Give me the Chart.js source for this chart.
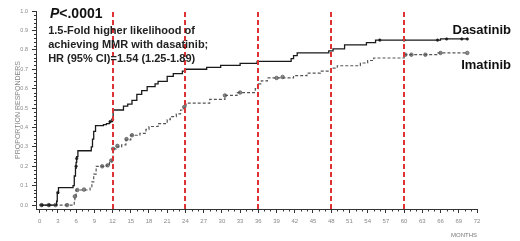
<!DOCTYPE html>
<html>
<head>
<meta charset="utf-8">
<script src="https://cdn.jsdelivr.net/npm/chart.js@4.4.1/dist/chart.umd.min.js"></script>
<style>
  body { margin: 0; background: #fff; }
  canvas { display: block; }
</style>
</head>
<body>
<canvas id="mmrChart" width="520" height="241"></canvas>
<script>
// step points: month of event -> cumulative proportion after it
const dasaMonths = [0, 2.8, 2.9, 3.1, 5.5, 5.7, 5.9, 6.0, 6.1, 6.3, 8.5, 8.7, 8.9, 9.2, 10.5, 11.0, 11.5, 12.0, 12.1,
  13.8, 14.5, 15.2, 16.0, 16.8, 17.7, 19.0, 19.5, 21.0, 22.0, 23.5, 24.0, 27.5, 29.8, 33.0, 35.8,
  41.4, 41.8, 42.4, 47.6, 48.3, 50.2, 53.8, 55.3, 66.0, 70.4];
const dasaValues = [0, 0.02, 0.06, 0.09, 0.10, 0.15, 0.19, 0.22, 0.25, 0.28, 0.30, 0.34, 0.38, 0.41, 0.415, 0.42, 0.43, 0.44, 0.49,
  0.51, 0.52, 0.54, 0.57, 0.59, 0.61, 0.625, 0.637, 0.663, 0.677, 0.69, 0.70, 0.71, 0.72, 0.73, 0.74,
  0.755, 0.77, 0.784, 0.795, 0.805, 0.825, 0.837, 0.85, 0.856, 0.856];

const imaMonths = [0, 5.7, 5.8, 6.0, 8.3, 8.6, 8.9, 9.3, 11.0, 11.5, 11.9, 12.1, 12.6, 13.5, 14.2, 15.0, 16.5, 17.5, 18.0,
  19.5, 21.0, 21.5, 22.5, 23.2, 23.8, 24.1, 28.0, 30.5, 32.5, 35.5, 36.0, 36.5, 37.5, 41.8, 44.0, 46.2, 47.9,
  49.0, 52.8, 54.0, 55.0, 60.0, 65.4, 70.4];
const imaValues = [0, 0.02, 0.045, 0.078, 0.088, 0.12, 0.16, 0.20, 0.205, 0.22, 0.24, 0.29, 0.30, 0.31, 0.336, 0.36, 0.37, 0.39, 0.405,
  0.42, 0.44, 0.456, 0.47, 0.49, 0.505, 0.525, 0.545, 0.565, 0.58, 0.60, 0.625, 0.64, 0.655, 0.667, 0.68, 0.69, 0.706,
  0.718, 0.732, 0.745, 0.758, 0.775, 0.784, 0.784];

// censor marks
const dasaMarkMonths = [0.4, 1.6, 3.0, 6.0, 6.1, 11.6, 12.0, 56.0, 60.0, 65.5, 67.0, 69.5, 70.4];
const dasaMarkValues = [0, 0, 0.065, 0.20, 0.24, 0.43, 0.44, 0.85, 0.85, 0.85, 0.856, 0.856, 0.856];
const imaMarkMonths = [0.3, 1.5, 2.6, 4.5, 5.8, 6.2, 7.3, 10.3, 11.2, 11.8, 12.1, 12.8, 14.3, 15.2, 23.8,
  30.5, 33.0, 39.0, 40.0, 60.2, 61.2, 63.5, 66.0, 70.4];
const imaMarkValues = [0, 0, 0, 0, 0.045, 0.078, 0.08, 0.20, 0.205, 0.23, 0.29, 0.305, 0.34, 0.36, 0.505,
  0.565, 0.58, 0.655, 0.66, 0.775, 0.775, 0.775, 0.784, 0.784];

const refMonths = [12, 24, 36, 48, 60];
const monthTicks = [0, 3, 6, 9, 12, 15, 18, 21, 24, 27, 30, 33, 36, 39, 42, 45, 48, 51, 54, 57, 60, 63, 66, 69, 72];
const proportionTicks = [0, 0.1, 0.2, 0.3, 0.4, 0.5, 0.6, 0.7, 0.8, 0.9, 1.0];

const toPoints = (xs, ys) => xs.map((x, i) => ({ x: x, y: ys[i] }));

const refLines = {
  id: 'refLines',
  afterDatasetsDraw: chart => {
    const { ctx, scales: { x, y } } = chart;
    ctx.save();
    ctx.strokeStyle = '#dc3434';
    ctx.lineWidth = 2;
    ctx.setLineDash([5, 3]);
    refMonths.forEach(m => {
      const px = Math.round(x.getPixelForValue(m));
      ctx.beginPath();
      ctx.moveTo(px, y.getPixelForValue(1.0) + 1);
      ctx.lineTo(px, y.getPixelForValue(y.min));
      ctx.stroke();
    });
    ctx.restore();
  }
};

const minorTicks = {
  id: 'minorTicks',
  afterDraw: chart => {
    const { ctx, scales: { x, y } } = chart;
    ctx.save();
    ctx.strokeStyle = '#333';
    ctx.lineWidth = 1;
    ctx.beginPath();
    for (let m = 1; m < 72; m++) {
      if (m % 3 === 0) continue;
      const px = Math.round(x.getPixelForValue(m)) + 0.5;
      ctx.moveTo(px, x.top);
      ctx.lineTo(px, x.top + 2.5);
    }
    for (let k = 1; k < 50; k++) {
      if (k % 5 === 0) continue;
      const py = Math.round(y.getPixelForValue(k * 0.02)) + 0.5;
      ctx.moveTo(y.right - 2, py);
      ctx.lineTo(y.right, py);
    }
    ctx.stroke();
    ctx.restore();
  }
};

const notes = {
  id: 'notes',
  afterDraw: chart => {
    const { ctx, chartArea, scales: { x, y } } = chart;
    const at = (mx, vy) => [x.getPixelForValue(mx), y.getPixelForValue(vy)];
    ctx.save();
    ctx.textBaseline = 'alphabetic';
    ctx.fillStyle = '#111';
    let [px, py] = at(1.7, 0.965);
    ctx.font = 'italic bold 14px "Liberation Sans", Arial, sans-serif';
    ctx.fillText('P', px, py);
    const pw = ctx.measureText('P').width;
    ctx.font = 'bold 14px "Liberation Sans", Arial, sans-serif';
    ctx.fillText('<.0001', px + pw, py);

    ctx.fillStyle = '#222';
    ctx.font = 'bold 11px "Liberation Sans", Arial, sans-serif';
    const lines = ['1.5-Fold higher likelihood of', 'achieving MMR with dasatinib;', 'HR (95% CI)=1.54 (1.25-1.89)'];
    const lineVals = [0.881, 0.809, 0.737];
    lines.forEach((t, i) => {
      const [lx, ly] = at(1.4, lineVals[i]);
      ctx.fillText(t, lx, ly);
    });

    ctx.fillStyle = '#111';
    ctx.font = 'bold 13px "Liberation Sans", Arial, sans-serif';
    ctx.textAlign = 'right';
    ctx.fillText('Dasatinib', chartArea.right + 34, y.getPixelForValue(0.88));
    ctx.fillText('Imatinib', chartArea.right + 34, y.getPixelForValue(0.703));
    ctx.restore();
  }
};

const tickFont = { family: '"Liberation Sans", Arial, sans-serif', size: 6 };

new Chart(document.getElementById('mmrChart'), {
  type: 'line',
  data: {
    datasets: [
      {
        label: 'Dasatinib',
        data: toPoints(dasaMonths, dasaValues),
        stepped: 'before',
        borderColor: '#1a1a1a',
        borderWidth: 1.3,
        pointRadius: 0,
        fill: false,
      },
      {
        label: 'Imatinib',
        data: toPoints(imaMonths, imaValues),
        stepped: 'before',
        borderColor: '#555',
        borderWidth: 1.2,
        borderDash: [3, 2],
        pointRadius: 0,
        fill: false,
      },
      {
        label: 'Dasatinib censored',
        data: toPoints(dasaMarkMonths, dasaMarkValues),
        showLine: false,
        pointRadius: 1.3,
        pointBackgroundColor: '#222',
        pointBorderColor: '#222',
        pointBorderWidth: 0.5,
      },
      {
        label: 'Imatinib censored',
        data: toPoints(imaMarkMonths, imaMarkValues),
        showLine: false,
        pointRadius: 1.8,
        pointBackgroundColor: '#8a8a8a',
        pointBorderColor: '#555',
        pointBorderWidth: 0.7,
      },
    ]
  },
  options: {
    responsive: false,
    animation: false,
    layout: { padding: { top: 11, right: 43, bottom: 0, left: 0 } },
    plugins: {
      legend: { display: false },
      tooltip: { enabled: false },
    },
    scales: {
      x: {
        type: 'linear',
        min: -0.6,
        max: 72,
        afterBuildTicks: s => { s.ticks = monthTicks.map(v => ({ value: v })); },
        afterFit: s => { s.height = 32; },
        border: { display: true, color: '#333', width: 1 },
        grid: { drawOnChartArea: false, tickLength: 4, tickColor: '#333' },
        ticks: {
          autoSkip: false,
          maxRotation: 0,
          padding: 5,
          color: '#888',
          font: tickFont,
        },
        title: {
          display: true,
          text: 'MONTHS',
          align: 'end',
          color: '#777',
          font: tickFont,
          padding: { top: 0, bottom: 2.5 },
        },
      },
      y: {
        min: -0.02,
        max: 1.0,
        afterBuildTicks: s => { s.ticks = proportionTicks.map(v => ({ value: v })); },
        afterFit: s => { s.width = 36; },
        border: { display: true, color: '#333', width: 1 },
        grid: { drawOnChartArea: false, tickLength: 4, tickColor: '#333' },
        ticks: {
          autoSkip: false,
          padding: 4,
          color: '#888',
          font: { family: '"Liberation Sans", Arial, sans-serif', size: 5.5 },
          callback: v => v.toFixed(1),
        },
        title: {
          display: true,
          text: 'PROPORTION RESPONDERS',
          color: '#888',
          font: { family: '"Liberation Sans", Arial, sans-serif', size: 7 },
          padding: { top: 14, bottom: 0 },
        },
      },
    }
  },
  plugins: [refLines, minorTicks, notes]
});
</script>
</body>
</html>
